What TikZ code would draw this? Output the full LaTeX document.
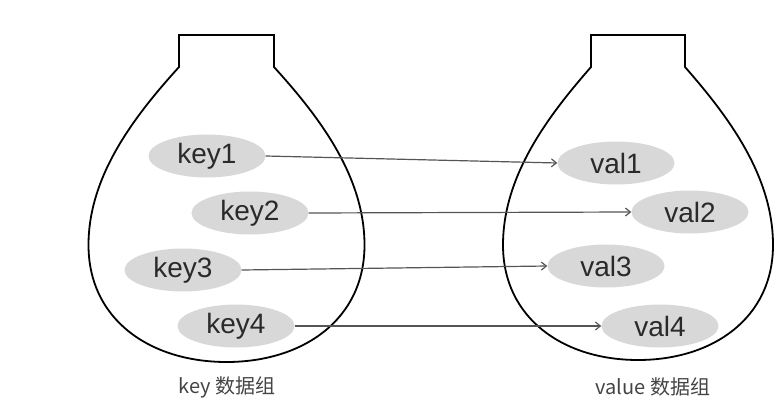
\documentclass[tikz,border=0pt]{standalone}
\usepackage{fontspec}
\setmainfont{Liberation Sans}
\newfontfamily\cjk{Noto Sans CJK SC}
\usetikzlibrary{arrows.meta,shapes.geometric}
\definecolor{ellfill}{HTML}{D8D8D8}
\definecolor{elltext}{HTML}{2A2A2A}
\definecolor{arrowgray}{HTML}{555555}
\definecolor{labelgray}{HTML}{444444}
\tikzset{
  item/.style={ellipse, fill=ellfill, minimum width=117pt, minimum height=43pt, inner sep=0pt,
    text=elltext, font=\fontsize{28}{30}\selectfont},
  bagline/.style={draw=black, line width=1.8pt, line join=miter},
  conn/.style={draw=arrowgray, line width=1.2pt, -{Straight Barb[length=5pt,width=8pt]}},
  caption/.style={text=labelgray, font=\cjk\fontsize{20}{22}\selectfont, inner sep=0pt}
}
\begin{document}
\begin{tikzpicture}[x=1pt,y=-1pt]
\useasboundingbox (0,0) rectangle (784,409);
% left bag
\begin{scope}[shift={(226.5,0)}]
\draw[bagline] (-47.5,67) -- (-47.5,35) -- (47.5,35) -- (47.5,67)
  .. controls (91,115) and (138,175) .. (138,245)
  .. controls (138,320) and (76,362) .. (0,362)
  .. controls (-76,362) and (-138,320) .. (-138,245)
  .. controls (-138,175) and (-91,115) .. (-47.5,67) -- cycle;
\end{scope}
% right bag
\begin{scope}[shift={(638,0)}]
\draw[bagline] (-47,67) -- (-47,35) -- (47,35) -- (47,67)
  .. controls (89,115) and (135,175) .. (135,245)
  .. controls (135,318) and (75,360) .. (0,360)
  .. controls (-75,360) and (-135,318) .. (-135,245)
  .. controls (-135,175) and (-89,115) .. (-47,67) -- cycle;
\end{scope}
% keys
\node[item] (key1) at (207,156) {key1};
\node[item] (key2) at (250,213) {key2};
\node[item] (key3) at (183,270) {key3};
\node[item] (key4) at (236,326) {key4};
% values
\node[item] (val1) at (616,163) {val1};
\node[item] (val2) at (690,212) {val2};
\node[item] (val3) at (606,266) {val3};
\node[item] (val4) at (660,326) {val4};
% connectors
\draw[conn] (key1.east) -- (val1.west);
\draw[conn] (key2.east) -- (val2.west);
\draw[conn] (key3.east) -- (val3.west);
\draw[conn] (key4.east) -- (val4.west);
% captions
\node[caption] (capk) at (227,387) {key 数据组};
\node[caption] (capv) at (653,387) {value 数据组};
\end{tikzpicture}
\end{document}
